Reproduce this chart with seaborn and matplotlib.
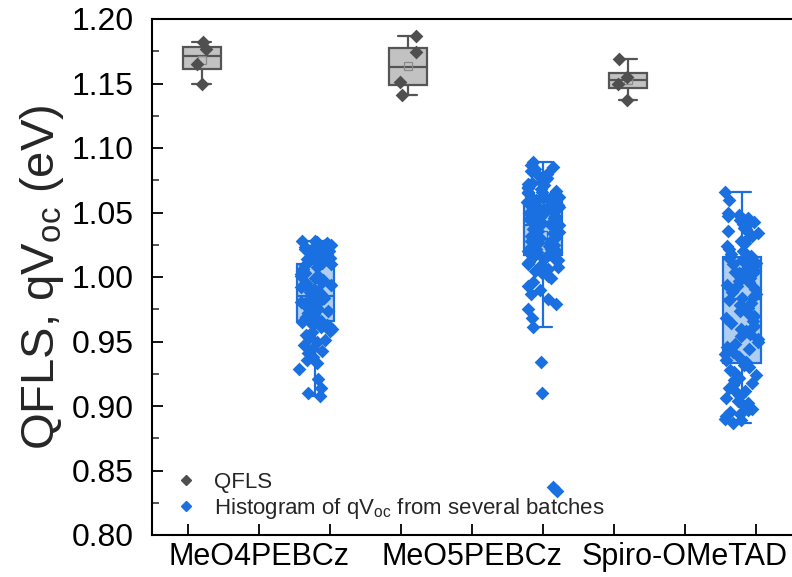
import numpy as np
import pandas as pd
import matplotlib
matplotlib.use("Agg")
import matplotlib.pyplot as plt
from matplotlib.lines import Line2D
from matplotlib.ticker import MultipleLocator, FormatStrFormatter, FixedLocator
import seaborn as sns

# ---------------- data ----------------
devices = ["MeO4PEBCz", "MeO5PEBCz", "Spiro-OMeTAD"]

qfls_meo4 = [1.182, 1.177, 1.165, 1.150]
qfls_meo5 = [1.187, 1.1745, 1.151, 1.141]
qfls_spiro = [1.169, 1.155, 1.150, 1.137]

voc_meo4 = [0.908, 0.910, 0.914, 0.921, 0.929, 0.933, 0.936, 0.938, 0.941, 0.943,
            0.945, 0.947, 0.950, 0.951, 0.953, 0.955, 0.957, 0.958, 0.960, 0.961,
            0.962, 0.963, 0.964, 0.965, 0.966, 0.967, 0.968, 0.969, 0.970, 0.971,
            0.972, 0.972, 0.973, 0.974, 0.975, 0.976, 0.977, 0.978, 0.979, 0.980,
            0.980, 0.981, 0.982, 0.983, 0.983, 0.984, 0.985, 0.985, 0.986, 0.987,
            0.988, 0.989, 0.990, 0.991, 0.992, 0.993, 0.994, 0.995, 0.996, 0.997,
            0.998, 0.999, 1.000, 1.001, 1.002, 1.003, 1.004, 1.005, 1.006, 1.008,
            1.009, 1.010, 1.011, 1.012, 1.013, 1.014, 1.015, 1.015, 1.016, 1.017,
            1.018, 1.018, 1.019, 1.020, 1.020, 1.021, 1.022, 1.022, 1.023, 1.024,
            1.025, 1.025, 1.026, 1.027, 1.028, 1.028]

voc_meo5 = [0.834, 0.837, 0.910, 0.934, 0.961, 0.968, 0.975, 0.979, 0.983, 0.987,
            0.990, 0.993, 0.996, 0.999, 1.001, 1.003, 1.005, 1.006, 1.008, 1.009,
            1.010, 1.011, 1.012, 1.013, 1.014, 1.015, 1.016, 1.017, 1.018, 1.019,
            1.019, 1.020, 1.021, 1.022, 1.022, 1.023, 1.024, 1.025, 1.026, 1.026,
            1.027, 1.028, 1.029, 1.030, 1.031, 1.032, 1.033, 1.034, 1.035, 1.036,
            1.037, 1.038, 1.039, 1.040, 1.041, 1.042, 1.042, 1.043, 1.044, 1.045,
            1.045, 1.046, 1.047, 1.048, 1.048, 1.049, 1.050, 1.050, 1.051, 1.052,
            1.052, 1.053, 1.054, 1.054, 1.055, 1.056, 1.056, 1.057, 1.058, 1.058,
            1.059, 1.060, 1.061, 1.062, 1.062, 1.063, 1.064, 1.065, 1.066, 1.066,
            1.067, 1.068, 1.069, 1.070, 1.071, 1.072, 1.073, 1.074, 1.075, 1.076,
            1.077, 1.079, 1.080, 1.082, 1.084, 1.085, 1.087, 1.089]

voc_spiro = [0.887, 0.889, 0.890, 0.892, 0.894, 0.895, 0.897, 0.898, 0.900, 0.902,
             0.904, 0.906, 0.908, 0.910, 0.912, 0.914, 0.916, 0.918, 0.920, 0.922,
             0.924, 0.926, 0.928, 0.930, 0.932, 0.934, 0.936, 0.938, 0.940, 0.942,
             0.944, 0.946, 0.948, 0.950, 0.952, 0.954, 0.956, 0.958, 0.960, 0.962,
             0.964, 0.966, 0.968, 0.970, 0.972, 0.974, 0.976, 0.978, 0.980, 0.982,
             0.984, 0.985, 0.987, 0.988, 0.990, 0.991, 0.993, 0.994, 0.996, 0.997,
             0.999, 1.000, 1.001, 1.003, 1.004, 1.005, 1.007, 1.008, 1.009, 1.010,
             1.011, 1.012, 1.013, 1.014, 1.015, 1.016, 1.018, 1.020, 1.022, 1.024,
             1.026, 1.028, 1.030, 1.032, 1.034, 1.036, 1.037, 1.038, 1.040, 1.041,
             1.042, 1.043, 1.044, 1.045, 1.046, 1.047, 1.048, 1.050, 1.060, 1.066]

# layout positions on the x axis
qfls_pos = [0.2, 3.1, 6.2]
voc_pos = [1.8, 5.0, 7.8]
label_pos = [1, 4, 7]

legend_labels = ["QFLS", "Histogram of qV$_{\\mathregular{oc}}$ from several batches"]

# ---------------- build tables ----------------
qfls_df = pd.DataFrame({
    "pos": np.concatenate([[p] * len(v) for p, v in zip(qfls_pos, [qfls_meo4, qfls_meo5, qfls_spiro])]),
    "value": np.concatenate([qfls_meo4, qfls_meo5, qfls_spiro]),
})
voc_df = pd.DataFrame({
    "pos": np.concatenate([[p] * len(v) for p, v in zip(voc_pos, [voc_meo4, voc_meo5, voc_spiro])]),
    "value": np.concatenate([voc_meo4, voc_meo5, voc_spiro]),
})

# ---------------- style ----------------
sns.set_theme(style="white")
plt.rcParams['font.family'] = ['Liberation Sans', 'DejaVu Sans']
plt.rcParams['mathtext.fontset'] = 'custom'
plt.rcParams['mathtext.rm'] = 'Liberation Sans'
plt.rcParams['mathtext.it'] = 'Liberation Sans'

gray_face = "#c2c2c2"
gray_edge = "#555555"
gray_pt = "#4f4f4f"
blue_face = "#b0cdf2"
blue_edge = "#1c6fdc"
blue_pt = "#1a70e0"

fig = plt.figure(figsize=(7.92, 5.77), dpi=100)
ax = fig.add_axes([152 / 792, 1 - 535 / 577, 675 / 792, 516 / 577])

np.random.seed(3)

sns.boxplot(data=qfls_df, x="pos", y="value", native_scale=True, orient="x",
            width=0.53 / 2.9, color=gray_face, linecolor=gray_edge, saturation=1,
            linewidth=1.6, showfliers=False, whis=1.5, showmeans=True,
            meanprops=dict(marker="s", markerfacecolor="none", markeredgecolor="#8a8a8a",
                           markersize=6, markeredgewidth=0.9),
            ax=ax, zorder=2)
sns.boxplot(data=voc_df, x="pos", y="value", native_scale=True, orient="x",
            width=0.53 / 2.8, color=blue_face, linecolor=blue_edge, saturation=1,
            linewidth=1.6, showfliers=False, whis=1.5, showmeans=True,
            meanprops=dict(marker="s", markerfacecolor="none", markeredgecolor=blue_edge,
                           markersize=6, markeredgewidth=0.9),
            ax=ax, zorder=2)

sns.stripplot(data=qfls_df, x="pos", y="value", native_scale=True, orient="x",
              jitter=0.05, marker="D", size=7, color=gray_pt, linewidth=0,
              ax=ax, zorder=4)
sns.stripplot(data=voc_df, x="pos", y="value", native_scale=True, orient="x",
              jitter=0.085, marker="D", size=7, color=blue_pt, linewidth=0,
              ax=ax, zorder=4)

# ---------------- axes ----------------
ax.set_xlim(-0.5, 9.0)
ax.set_ylim(0.80, 1.20)
ax.xaxis.set_major_locator(FixedLocator(list(range(0, 9))))
ax.set_xticklabels(["" if i not in label_pos else devices[label_pos.index(i)] for i in range(0, 9)])
ax.yaxis.set_major_locator(MultipleLocator(0.05))
ax.yaxis.set_minor_locator(MultipleLocator(0.025))
ax.yaxis.set_major_formatter(FormatStrFormatter("%.2f"))
ax.set_xlabel("")
ax.set_ylabel("QFLS, qV$_{\\mathregular{oc}}$ (eV)", fontsize=34, labelpad=4)

ax.tick_params(axis="x", which="major", direction="in", length=8, width=1.3,
               labelsize=22, colors="black", bottom=True, top=False, pad=5)
ax.tick_params(axis="y", which="major", direction="in", length=8, width=1.3,
               labelsize=23, colors="black", left=True, right=False, pad=13)
ax.tick_params(axis="y", which="minor", direction="in", length=5, width=1.1, left=True)
for s in ax.spines.values():
    s.set_color("black")
    s.set_linewidth(1.5)
    s.set_visible(True)

handles = [
    Line2D([], [], marker="D", linestyle="none", color=gray_pt, markersize=5.5),
    Line2D([], [], marker="D", linestyle="none", color=blue_pt, markersize=5.5),
]
ax.legend(handles, legend_labels, loc="lower left", bbox_to_anchor=(0.03, 0.028),
          frameon=False, fontsize=16, handletextpad=0.7, labelspacing=0.12,
          handlelength=1.2, borderpad=0, borderaxespad=0)

fig.savefig("out.png", dpi=100)
